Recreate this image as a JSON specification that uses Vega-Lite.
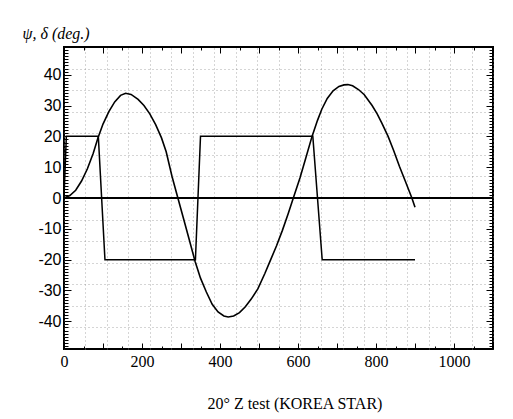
{
  "$schema": "https://vega.github.io/schema/vega-lite/v6.json",
  "width": 429,
  "height": 302,
  "autosize": "none",
  "padding": {"left": 64, "top": 47, "right": 20, "bottom": 70},
  "background": "white",
  "config": {
    "view": {"stroke": "black", "strokeWidth": 2},
    "axis": {"domain": false, "tickColor": "black", "labelColor": "black", "titleColor": "black"}
  },
  "datasets": {
    "psi": [
      {"t": 0, "deg": 0}, {"t": 15, "deg": 0.8}, {"t": 30, "deg": 2.5}, {"t": 45, "deg": 5.5},
      {"t": 60, "deg": 9.5}, {"t": 75, "deg": 14.5}, {"t": 87, "deg": 19.5}, {"t": 100, "deg": 24},
      {"t": 115, "deg": 28}, {"t": 130, "deg": 31.2}, {"t": 145, "deg": 33.3}, {"t": 158, "deg": 34},
      {"t": 172, "deg": 33.6}, {"t": 190, "deg": 32}, {"t": 205, "deg": 30}, {"t": 220, "deg": 27.3},
      {"t": 235, "deg": 23.8}, {"t": 250, "deg": 19.5}, {"t": 262, "deg": 15}, {"t": 277, "deg": 7},
      {"t": 292, "deg": 0}, {"t": 305, "deg": -6}, {"t": 320, "deg": -13}, {"t": 336, "deg": -20.5},
      {"t": 350, "deg": -26}, {"t": 365, "deg": -30.5}, {"t": 380, "deg": -34.5}, {"t": 395, "deg": -37},
      {"t": 410, "deg": -38.3}, {"t": 421, "deg": -38.6}, {"t": 435, "deg": -38.3}, {"t": 450, "deg": -37.2},
      {"t": 465, "deg": -35.3}, {"t": 480, "deg": -32.8}, {"t": 497, "deg": -29.5}, {"t": 515, "deg": -24.5},
      {"t": 530, "deg": -20}, {"t": 545, "deg": -15.5}, {"t": 560, "deg": -10.5}, {"t": 575, "deg": -5},
      {"t": 588, "deg": 0}, {"t": 605, "deg": 6.5}, {"t": 620, "deg": 13}, {"t": 636, "deg": 20},
      {"t": 650, "deg": 25.2}, {"t": 661, "deg": 28.8}, {"t": 675, "deg": 32.3}, {"t": 690, "deg": 34.8},
      {"t": 705, "deg": 36.2}, {"t": 718, "deg": 36.7}, {"t": 728, "deg": 36.8}, {"t": 740, "deg": 36.4},
      {"t": 755, "deg": 35.2}, {"t": 770, "deg": 33.5}, {"t": 790, "deg": 30}, {"t": 803, "deg": 27.3},
      {"t": 815, "deg": 24.3}, {"t": 831, "deg": 20}, {"t": 845, "deg": 15.5}, {"t": 860, "deg": 10.3},
      {"t": 875, "deg": 5.5}, {"t": 892, "deg": 0}, {"t": 900, "deg": -3}
    ],
    "delta": [
      {"t": 0, "deg": 0}, {"t": 6, "deg": 20}, {"t": 88, "deg": 20}, {"t": 105, "deg": -20},
      {"t": 337, "deg": -20}, {"t": 350, "deg": 20}, {"t": 638, "deg": 20}, {"t": 662, "deg": -20},
      {"t": 900, "deg": -20}
    ]
  },
  "layer": [
    {
      "data": {"name": "psi"},
      "mark": {"type": "line", "color": "black", "strokeWidth": 1.6},
      "encoding": {
        "x": {
          "field": "t", "type": "quantitative",
          "scale": {"domain": [0, 1100], "nice": false, "zero": false},
          "axis": {
            "orient": "bottom",
            "values": [0, 50, 100, 150, 200, 250, 300, 350, 400, 450, 500, 550, 600, 650, 700, 750, 800, 850, 900, 950, 1000, 1050, 1100],
            "labelExpr": "datum.value % 200 === 0 && datum.value <= 1000 ? '' + datum.value : ''",
            "tickSize": {"condition": {"test": "datum.value % 100 === 0", "value": -6}, "value": -3},
            "labelFlush": false, "labelOverlap": false,
            "labelFont": "Liberation Serif", "labelFontSize": 16, "labelPadding": 10,
            "grid": false,
            "title": "20° Z test (KOREA STAR)",
            "titleFont": "Liberation Serif", "titleFontSize": 16, "titleFontWeight": "normal",
            "titleAlign": "left", "titleBaseline": "middle", "titleX": 143, "titleY": 54
          }
        },
        "y": {
          "field": "deg", "type": "quantitative",
          "scale": {"domain": [-49, 49], "nice": false, "zero": false},
          "axis": {
            "orient": "left",
            "values": [-48,-47,-46,-45,-44,-43,-42,-41,-40,-39,-38,-37,-36,-35,-34,-33,-32,-31,-30,-29,-28,-27,-26,-25,-24,-23,-22,-21,-20,-19,-18,-17,-16,-15,-14,-13,-12,-11,-10,-9,-8,-7,-6,-5,-4,-3,-2,-1,0,1,2,3,4,5,6,7,8,9,10,11,12,13,14,15,16,17,18,19,20,21,22,23,24,25,26,27,28,29,30,31,32,33,34,35,36,37,38,39,40,41,42,43,44,45,46,47,48],
            "labelExpr": "datum.value % 10 === 0 ? '' + datum.value : ''",
            "tickSize": {"condition": {"test": "datum.value % 10 === 0", "value": -7}, "value": -4},
            "labelOverlap": false,
            "labelFont": "Liberation Sans", "labelFontSize": 16, "labelPadding": 10,
            "grid": false,
            "title": "ψ, δ (deg.)",
            "titleFont": "Liberation Serif", "titleFontSize": 16, "titleFontStyle": "italic", "titleFontWeight": "normal",
            "titleAngle": 0, "titleAlign": "left", "titleBaseline": "middle", "titleX": -42, "titleY": -14
          }
        }
      }
    },
    {
      "data": {"name": "delta"},
      "mark": {"type": "line", "color": "black", "strokeWidth": 1.5},
      "encoding": {
        "x": {
          "field": "t", "type": "quantitative",
          "axis": {
            "orient": "top",
            "values": [0,50,55,100,110,150,165,200,220,250,275,300,330,350,385,400,440,450,495,500,550,600,605,650,660,700,715,750,770,800,825,850,880,900,935,950,990,1000,1045,1050,1100],
            "labels": false, "title": null,
            "tickSize": {"condition": {"test": "datum.value % 100 === 0", "value": -6}, "value": -3},
            "tickOpacity": {"condition": {"test": "datum.value % 50 === 0", "value": 1}, "value": 0},
            "grid": true,
            "gridColor": "#888", "gridDash": [1, 3], "gridWidth": 1,
            "gridOpacity": {"condition": {"test": "datum.value % 55 === 0", "value": 0.7}, "value": 0}
          }
        },
        "y": {
          "field": "deg", "type": "quantitative",
          "axis": {
            "orient": "right",
            "values": [-48,-47,-46,-45,-44,-43,-42,-41,-40,-39,-38,-37,-36,-35,-34,-33,-32,-31,-30,-29,-28,-27,-26,-25,-24,-23,-22,-21,-20,-19,-18,-17,-16,-15,-14,-13,-12,-11,-10,-9,-8,-7,-6,-5,-4,-3,-2,-1,0,1,2,3,4,5,6,7,8,9,10,11,12,13,14,15,16,17,18,19,20,21,22,23,24,25,26,27,28,29,30,31,32,33,34,35,36,37,38,39,40,41,42,43,44,45,46,47,48],
            "labels": false, "title": null,
            "tickSize": {"condition": {"test": "datum.value % 10 === 0", "value": -7}, "value": -4},
            "grid": true,
            "gridColor": "#888", "gridDash": [1, 3], "gridWidth": 1,
            "gridOpacity": {"condition": {"test": "datum.value % 7 === 0", "value": 0.7}, "value": 0}
          }
        }
      }
    },
    {
      "data": {"values": [{}]},
      "mark": {"type": "rule", "color": "black", "strokeWidth": 2},
      "encoding": {"y": {"datum": 0, "type": "quantitative", "axis": null}}
    }
  ],
  "resolve": {"axis": {"x": "independent", "y": "independent"}}
}
